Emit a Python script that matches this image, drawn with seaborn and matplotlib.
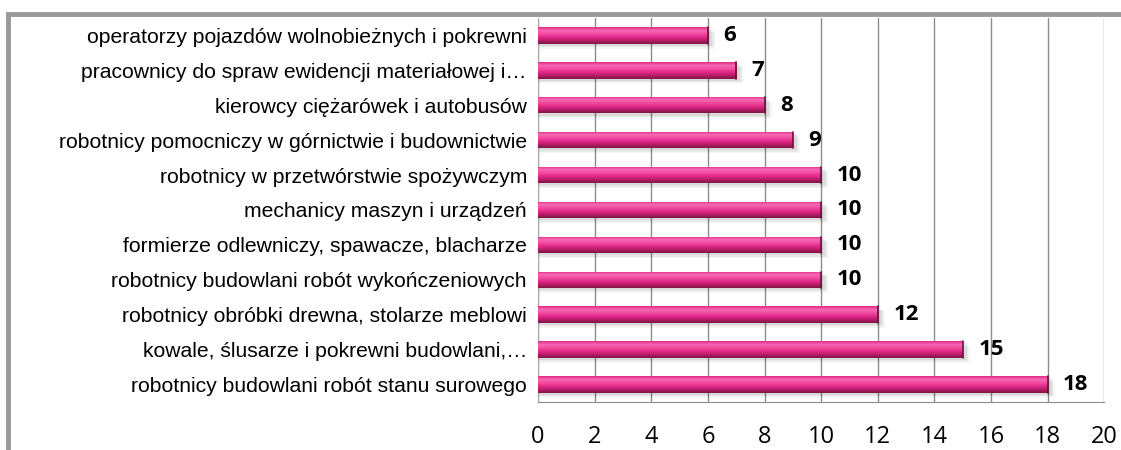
import numpy as np
import pandas as pd
import seaborn as sns
import matplotlib.pyplot as plt
from matplotlib.patches import Rectangle

# data (top to bottom)
occupations = [
    'operatorzy pojazdów wolnobieżnych i pokrewni',
    'pracownicy do spraw ewidencji materiałowej i…',
    'kierowcy ciężarówek i autobusów',
    'robotnicy pomocniczy w górnictwie i budownictwie',
    'robotnicy w przetwórstwie spożywczym',
    'mechanicy maszyn i urządzeń',
    'formierze odlewniczy, spawacze, blacharze',
    'robotnicy budowlani robót wykończeniowych',
    'robotnicy obróbki drewna, stolarze meblowi',
    'kowale, ślusarze i pokrewni budowlani,…',
    'robotnicy budowlani robót stanu surowego',
]
counts = [6, 7, 8, 9, 10, 10, 10, 10, 12, 15, 18]
x_ticks = list(range(0, 21, 2))

df = pd.DataFrame({'zawod': occupations, 'liczba': counts})

sns.set_style('white')
plt.rcParams['font.family'] = ['Liberation Sans', 'DejaVu Sans']
plt.rcParams['text.color'] = 'black'

fig = plt.figure(figsize=(11.21, 4.5), dpi=100)
ax = fig.add_axes([0.48, 0.107, 0.505, 0.853])

sns.barplot(data=df, y='zawod', x='liczba', orient='h', color='#e8338a',
            width=0.47, ax=ax, zorder=3)

# glossy vertical gradient on each bar (bright top band, dark bottom), plus a soft shadow
cmap = plt.matplotlib.colors.LinearSegmentedColormap.from_list(
    'pink', [(0.0, '#e02a80'), (0.2, '#f56ab6'), (0.4, '#f04d9f'),
             (0.6, '#e3288a'), (0.8, '#b71c66'), (1.0, '#7e1746')])
grad = np.linspace(0, 1, 64).reshape(-1, 1)
for p in ax.patches:
    x0, y0 = p.get_x(), p.get_y()
    w, h = p.get_width(), p.get_height()
    for k, a in enumerate([0.06, 0.05, 0.04]):
        sh = Rectangle((x0 + 0.05, y0 + 0.06 + k * 0.04), w + 0.1 + k * 0.05, h,
                       facecolor='#000000', alpha=a, edgecolor='none', zorder=2)
        ax.add_patch(sh)
    # y axis is inverted: y0 is the visual top of the bar
    im = ax.imshow(grad, cmap=cmap, aspect='auto',
                   extent=(x0, x0 + w, y0 + h, y0), zorder=4, origin='upper')
    im.set_clip_path(p)
    p.set_edgecolor('none')
    p.set_linewidth(0)
    ax.plot([x0 + w, x0 + w], [y0, y0 + h], color='#6e0f3a', linewidth=1.2, zorder=5)

for i, v in enumerate(counts):
    ax.text(v + 0.55, i, str(v), va='center', ha='left', fontsize=16,
            fontweight='bold', color='black',
            family=['Open Sans', 'DejaVu Sans'], zorder=5)

ax.set_xlim(0, 20)
ax.set_ylim(len(counts) - 0.5, -0.5)
ax.set_xticks(x_ticks)
ax.set_xticklabels([str(t) for t in x_ticks], fontsize=17,
                   family=['Open Sans', 'DejaVu Sans'])
ax.tick_params(axis='x', length=10, width=1, color='#888888', pad=7,
               direction='out', labelcolor='black')
ax.tick_params(axis='y', length=0, labelsize=15.2, pad=8, labelcolor='black')
ax.grid(axis='x', color='#8c8c8c', linewidth=1, zorder=0)
ax.set_axisbelow(True)
ax.set_xlabel('')
ax.set_ylabel('')
for s in ['top', 'right']:
    ax.spines[s].set_visible(False)
ax.spines['left'].set_color('#aaaaaa')
ax.spines['bottom'].set_color('#8c8c8c')

# chart area frame (only the top and left edges are visible)
fig.patches.append(Rectangle((8 / 1121, -0.1), 1.2, (450 - 14) / 450 + 0.1,
                             transform=fig.transFigure, fill=False,
                             edgecolor='#999999', linewidth=3.5))

fig.savefig('out.png', dpi=100)
